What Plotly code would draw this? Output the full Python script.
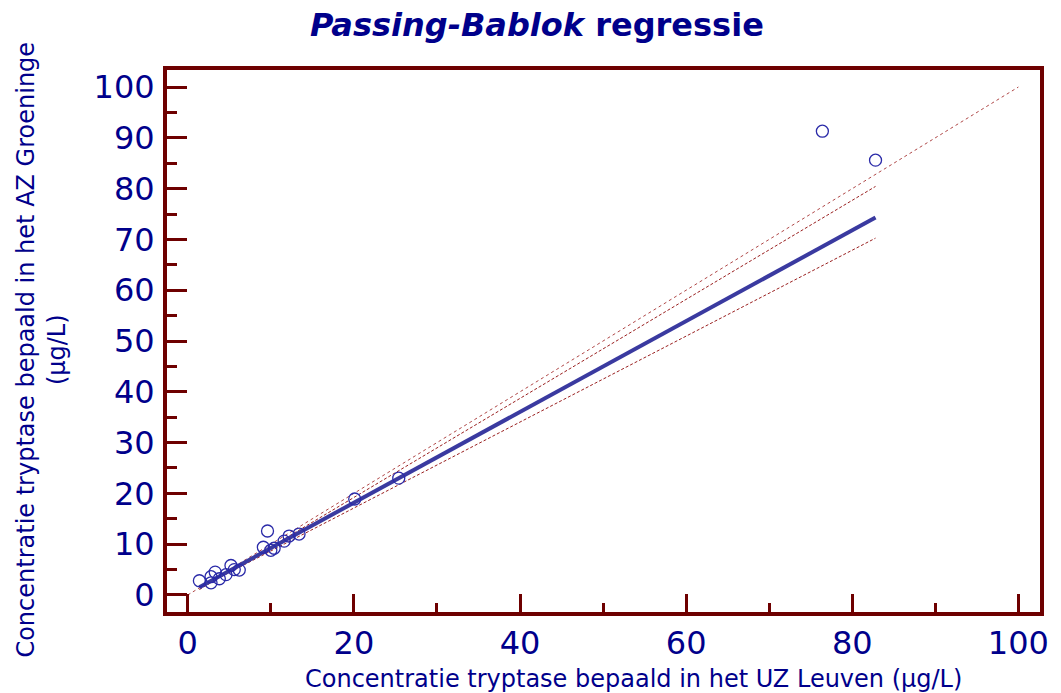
import plotly.graph_objects as go

# Paired tryptase measurements (µg/L)
x_leuven = [1.4, 2.8, 2.8, 3.3, 3.8, 4.6, 5.2, 5.6, 6.2, 9.1, 9.6, 10.0, 10.4,
            11.6, 12.2, 13.4, 20.1, 25.4, 76.4, 82.8]
y_groeninge = [2.8, 2.4, 3.6, 4.5, 3.2, 4.0, 5.8, 5.0, 4.9, 9.4, 12.6, 8.8, 9.2,
               10.6, 11.6, 12.0, 18.9, 23.0, 91.3, 85.6]

# Passing-Bablok fit and the bounds of its confidence band
pb_intercept, pb_slope = 0.28, 0.894
ci_upper_intercept, ci_upper_slope = -0.3, 0.975
ci_lower_intercept, ci_lower_slope = 0.2, 0.846

identity_range = [0, 100]
x_ticks = [0, 20, 40, 60, 80, 100]
y_ticks = [0, 10, 20, 30, 40, 50, 60, 70, 80, 90, 100]

AXIS = "#6e0000"
NAVY = "#00008b"
FONT = "DejaVu Sans"

x_fit = [min(x_leuven), max(x_leuven)]

def line_y(a, b, xs):
    return [a + b * v for v in xs]

fig = go.Figure()

fig.add_trace(go.Scatter(
    x=identity_range, y=identity_range, mode="lines",
    line=dict(color="#b04848", width=1, dash="dot"), hoverinfo="skip"))
fig.add_trace(go.Scatter(
    x=x_fit, y=line_y(ci_upper_intercept, ci_upper_slope, x_fit), mode="lines",
    line=dict(color="#9a2020", width=1, dash="3px,2px"), hoverinfo="skip"))
fig.add_trace(go.Scatter(
    x=x_fit, y=line_y(ci_lower_intercept, ci_lower_slope, x_fit), mode="lines",
    line=dict(color="#9a2020", width=1, dash="3px,2px"), hoverinfo="skip"))
fig.add_trace(go.Scatter(
    x=x_fit, y=line_y(pb_intercept, pb_slope, x_fit), mode="lines",
    line=dict(color="#3a3aa0", width=4)))
fig.add_trace(go.Scatter(
    x=x_leuven, y=y_groeninge, mode="markers",
    marker=dict(symbol="circle-open", size=12, color="#2a2aa8",
                line=dict(width=1.3, color="#2a2aa8"))))

axis_common = dict(
    showline=True, linecolor=AXIS, linewidth=4, mirror=True,
    ticks="inside", tickcolor=AXIS, tickwidth=3,
    showgrid=False, zeroline=False,
    tickfont=dict(family=FONT, size=32, color=NAVY),
)

fig.update_xaxes(range=[-2.5, 102.6], tickvals=x_ticks, ticklen=18,
                 minor=dict(dtick=10, tick0=0, ticks="inside", ticklen=9,
                            tickwidth=3, tickcolor=AXIS),
                 ticklabelstandoff=0, **axis_common)
fig.update_yaxes(range=[-3.35, 103.35], tickvals=y_ticks, ticklen=20,
                 minor=dict(dtick=5, tick0=0, ticks="inside", ticklen=10,
                            tickwidth=3, tickcolor=AXIS),
                 ticklabelstandoff=2, **axis_common)

fig.update_layout(
    width=1061, height=693,
    margin=dict(l=167, r=17, t=70, b=81),
    paper_bgcolor="white", plot_bgcolor="white",
    showlegend=False,
    title=dict(text="<b><i>Passing-Bablok</i> regressie</b>",
               x=0.506, xanchor="center", y=1 - 25 / 693, yanchor="middle",
               yref="container",
               font=dict(family=FONT, size=32, color=NAVY)),
    annotations=[
        dict(text="Concentratie tryptase bepaald in het UZ Leuven (µg/L)",
             xref="paper", yref="paper", x=(636 - 167) / 877, y=-(679 - 612) / 542,
             xanchor="center", yanchor="middle", showarrow=False,
             font=dict(family=FONT, size=24, color=NAVY)),
        dict(text="Concentratie tryptase bepaald in het AZ Groeninge<br>(µg/L)",
             xref="paper", yref="paper", x=-(167 - 40) / 877, y=(612 - 350) / 542,
             xanchor="center", yanchor="middle", showarrow=False, textangle=-90,
             font=dict(family=FONT, size=24, color=NAVY)),
    ],
)

fig.write_html("out.html")
